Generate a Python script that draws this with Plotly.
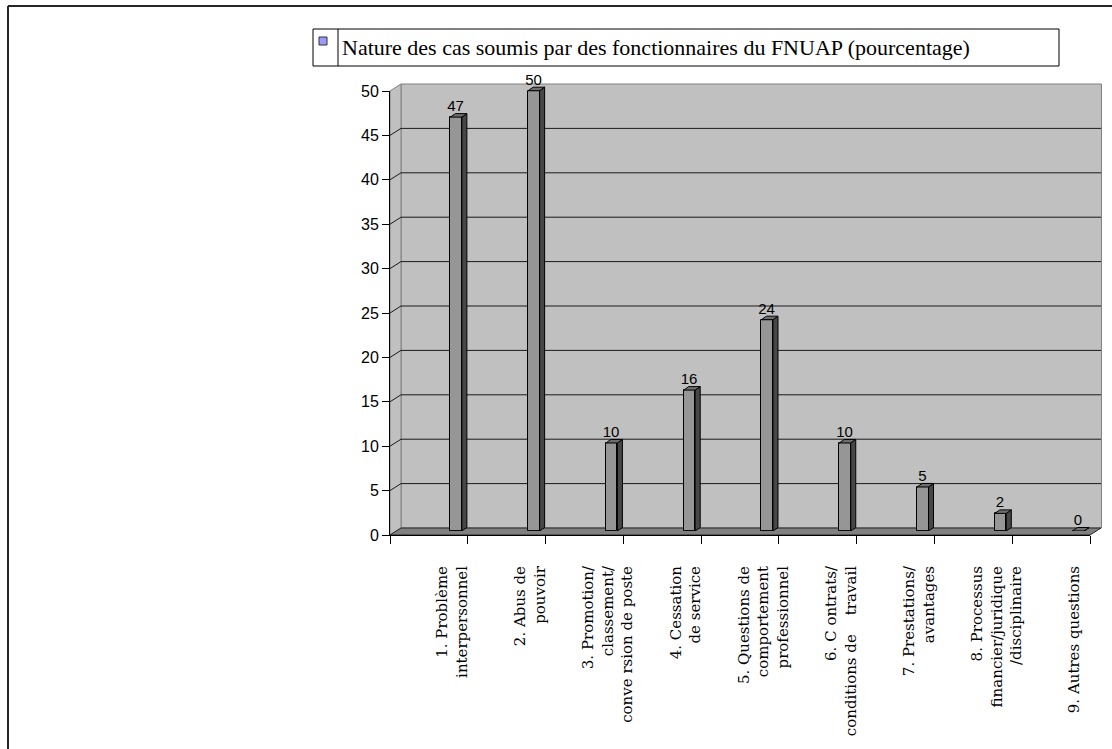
import plotly.graph_objects as go

# ---------------- data ----------------
categories = [
    "1. Problème<br>interpersonnel",
    "2. Abus de<br>pouvoir",
    "3. Promotion/<br>classement/<br>conve rsion de poste",
    "4. Cessation<br>de service",
    "5. Questions de<br>comportement<br>professionnel",
    "6. C ontrats/<br>conditions de    travail",
    "7. Prestations/<br>avantages",
    "8. Processus<br>financier/juridique<br>/disciplinaire",
    "9. Autres questions",
]
values = [47, 50, 10, 16, 24, 10, 5, 2, 0]
y_ticks = [0, 5, 10, 15, 20, 25, 30, 35, 40, 45, 50]
series_name = "Nature des cas soumis par des fonctionnaires du FNUAP (pourcentage)"

# ---------------- geometry (pixels) ----------------
W, H = 1112, 749
def fx(p): return p / W
def fy(p): return 1 - p / H

N = len(categories)
AX_L, AX_R = 390, 1090          # front x-axis extent
AX_B, AX_T = 535, 91            # front y-axis extent (0 .. 50)
YMAX = 50
cw = (AX_R - AX_L) / N          # px per category
ppu = (AX_B - AX_T) / YMAX      # px per unit
DX, DY = 11, 7                  # wall depth offset (px)

# bars sit mid-depth
BAR_B = 531
BAR_PPU = 8.806
BAR_TOP_RANGE = 52
BAR_OFF = 0.35
BAR_W = 0.148
LABEL_OFF = 0.30
ddx = 5 / cw
ddy = 3.5 / BAR_PPU

FRONT = "#969696"
SIDE = "#474747"
TOP = "#6e6e6e"

fig = go.Figure()

# dummy trace for frame subplot
fig.add_trace(go.Scatter(x=[None], y=[None], xaxis="x", yaxis="y",
                         showlegend=False, hoverinfo="skip"))

# front faces
xs = list(range(N))
fig.add_trace(go.Bar(
    x=xs, y=values, xaxis="x", yaxis="y2",
    width=BAR_W, offset=BAR_OFF - BAR_W / 2,
    marker=dict(color=FRONT, line=dict(color="black", width=1)),
    text=[str(v) for v in values], textposition="outside",
    constraintext="none",
    textfont=dict(family="Liberation Sans, Arial", size=15, color="black"),
    cliponaxis=False, showlegend=False, name=series_name,
))

# side and top faces
sx, sy = [], []
tx, ty = [], []
for i, v in zip(xs, values):
    xl = i + BAR_OFF - BAR_W / 2
    xr = i + BAR_OFF + BAR_W / 2
    sx += [xr, xr + ddx, xr + ddx, xr, xr, None]
    sy += [0, ddy, v + ddy, v, 0, None]
    tx += [xl, xl + ddx, xr + ddx, xr, xl, None]
    ty += [v, v + ddy, v + ddy, v, v, None]
fig.add_trace(go.Scatter(x=sx, y=sy, xaxis="x", yaxis="y2", mode="lines",
                         fill="toself", fillcolor=SIDE,
                         line=dict(color="black", width=1),
                         showlegend=False, hoverinfo="skip"))
fig.add_trace(go.Scatter(x=tx, y=ty, xaxis="x", yaxis="y2", mode="lines",
                         fill="toself", fillcolor=TOP,
                         line=dict(color="black", width=1),
                         showlegend=False, hoverinfo="skip"))

# ---------------- decor shapes ----------------
shapes = []
def path(pts):
    return "M " + " L ".join(f"{fx(a):.6f},{fy(b):.6f}" for a, b in pts) + " Z"

# back wall
shapes.append(dict(type="rect", xref="paper", yref="paper", layer="below",
                   x0=fx(AX_L + DX), x1=fx(AX_R + DX + 0.5),
                   y0=fy(AX_B - DY), y1=fy(AX_T - DY),
                   fillcolor="#c0c0c0", line=dict(color="#808080", width=1)))
# left wall
shapes.append(dict(type="path", xref="paper", yref="paper", layer="below",
                   path=path([(AX_L, AX_T), (AX_L + DX, AX_T - DY),
                              (AX_L + DX, AX_B - DY), (AX_L, AX_B)]),
                   fillcolor="#c0c0c0", line=dict(color="#808080", width=1)))
# gridlines
for v in y_ticks[1:-1]:
    yb = AX_B - DY - v * ppu
    yf = AX_B - v * ppu
    shapes.append(dict(type="line", xref="paper", yref="paper", layer="below",
                       x0=fx(AX_L + DX), x1=fx(AX_R + DX), y0=fy(yb), y1=fy(yb),
                       line=dict(color="#1a1a1a", width=1)))
    shapes.append(dict(type="line", xref="paper", yref="paper", layer="below",
                       x0=fx(AX_L), x1=fx(AX_L + DX), y0=fy(yf), y1=fy(yb),
                       line=dict(color="#1a1a1a", width=1)))
# floor
shapes.append(dict(type="path", xref="paper", yref="paper", layer="below",
                   path=path([(AX_L, AX_B), (AX_L + DX, AX_B - DY),
                              (AX_R + DX, AX_B - DY), (AX_R, AX_B)]),
                   fillcolor="#808080", line=dict(color="#262626", width=1)))

# outer frame
shapes.append(dict(type="line", xref="paper", yref="paper",
                   x0=fx(8), x1=fx(1112), y0=fy(6), y1=fy(6),
                   line=dict(color="#262626", width=2)))
shapes.append(dict(type="line", xref="paper", yref="paper",
                   x0=fx(8), x1=fx(8), y0=fy(6), y1=fy(749),
                   line=dict(color="#262626", width=2)))

# legend box
shapes.append(dict(type="rect", xref="paper", yref="paper",
                   x0=fx(313), x1=fx(1059), y0=fy(66), y1=fy(29),
                   fillcolor="white", line=dict(color="black", width=1)))
shapes.append(dict(type="line", xref="paper", yref="paper",
                   x0=fx(338), x1=fx(338), y0=fy(66), y1=fy(29),
                   line=dict(color="black", width=1)))
shapes.append(dict(type="rect", xref="paper", yref="paper",
                   x0=fx(319), x1=fx(327), y0=fy(45), y1=fy(37),
                   fillcolor="#9999ff", line=dict(color="#333333", width=1)))

annotations = [dict(
    xref="paper", yref="paper", x=fx(340), y=fy(47.5),
    xanchor="left", yanchor="middle", showarrow=False,
    text=series_name,
    font=dict(family="Liberation Serif, Times New Roman", size=22, color="black"),
)]

fig.update_layout(
    width=W, height=H,
    margin=dict(l=0, r=0, t=0, b=0, autoexpand=False),
    paper_bgcolor="white", plot_bgcolor="rgba(0,0,0,0)",
    showlegend=False, bargap=0,
    shapes=shapes, annotations=annotations,
    xaxis=dict(
        domain=[fx(AX_L), fx(AX_R)], range=[-0.5, N - 0.5], anchor="y",
        tickmode="array", tickvals=[i + LABEL_OFF for i in xs], ticktext=categories,
        tickangle=-90, ticks="",
        minor=dict(tickmode="array", tickvals=[i - 0.5 for i in range(N + 1)],
                   ticks="outside", ticklen=8, tickcolor="black", tickwidth=1),
        ticklabelstandoff=24,
        tickfont=dict(family="DejaVu Serif", size=15, color="black"),
        showline=True, linecolor="black", linewidth=1,
        showgrid=False, zeroline=False, fixedrange=True, automargin=False,
    ),
    yaxis=dict(
        domain=[fy(AX_B), fy(AX_T)], range=[0, YMAX], anchor="x",
        tickmode="array", tickvals=y_ticks,
        ticks="outside", ticklen=7, tickcolor="black",
        tickfont=dict(family="Liberation Sans, Arial", size=16, color="black"),
        showline=True, linecolor="black", linewidth=1,
        showgrid=False, zeroline=False, fixedrange=True, automargin=False,
    ),
    yaxis2=dict(
        domain=[fy(BAR_B), fy(BAR_B - BAR_TOP_RANGE * BAR_PPU)],
        range=[0, BAR_TOP_RANGE], anchor="x", visible=False,
        showgrid=False, zeroline=False, fixedrange=True, automargin=False,
    ),
)

fig.write_html("out.html")
